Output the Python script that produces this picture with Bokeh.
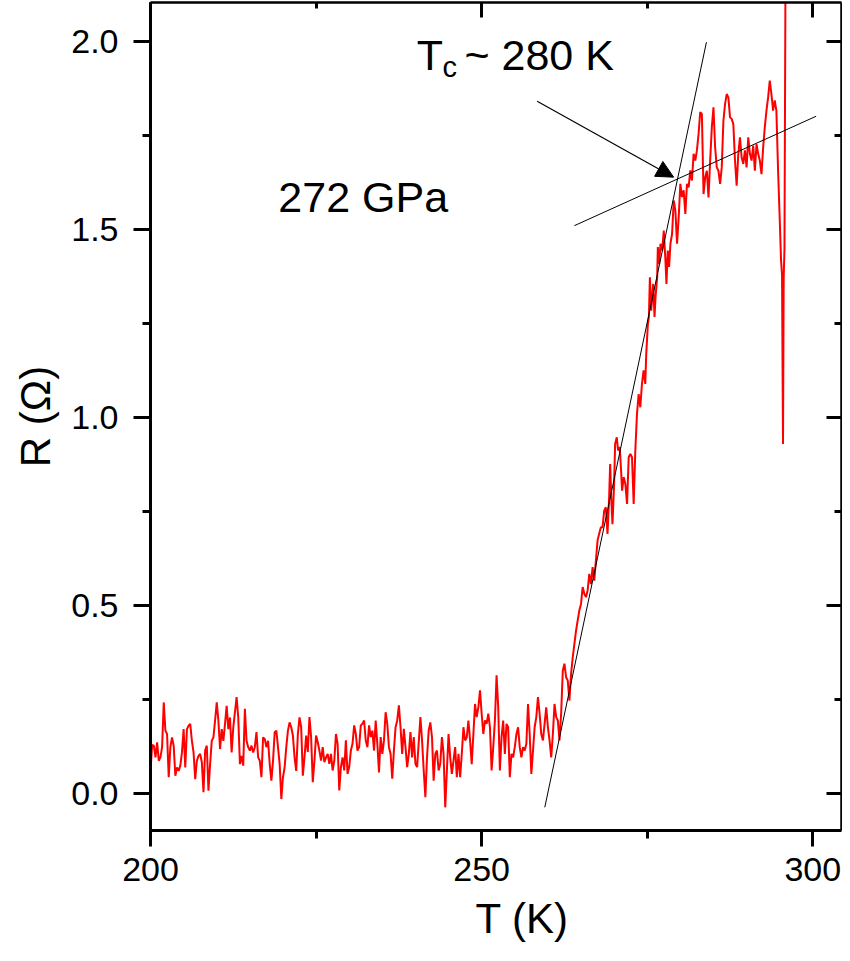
from bokeh.plotting import figure
from bokeh.models import (LinearAxis, SingleIntervalTicker, NumeralTickFormatter,
                          CustomJSTickFormatter, Label, Arrow, NormalHead, Range1d, Title)
from bokeh.embed import file_html
from bokeh.resources import INLINE

FONT = "Liberation Sans"

# ---------------- data ----------------
T1 = [200.0, 200.25, 200.5, 200.75, 201.0, 201.25, 201.5, 201.75, 202.0, 202.25,
      202.5, 202.75, 203.0, 203.25, 203.5, 203.75, 204.0, 204.25, 204.5, 204.75,
      205.0, 205.25, 205.5, 205.75, 206.0, 206.25, 206.5, 206.75, 207.0, 207.25,
      207.5, 207.75, 208.0, 208.25, 208.5, 208.75, 209.0, 209.25, 209.5, 209.75,
      210.0, 210.25, 210.5, 210.75, 211.0, 211.25, 211.5, 211.75, 212.0, 212.25,
      212.5, 212.75, 213.0, 213.25, 213.5, 213.75, 214.0, 214.25, 214.5, 214.75,
      215.0, 215.25, 215.5, 215.75, 216.0, 216.25, 216.5, 216.75, 217.0, 217.25,
      217.5, 217.75, 218.0, 218.25, 218.5, 218.75, 219.0, 219.25, 219.5, 219.75,
      220.0, 220.25, 220.5, 220.75, 221.0, 221.25, 221.5, 221.75, 222.0, 222.25,
      222.5, 222.75, 223.0, 223.25, 223.5]
R1 = [0.06, 0.13, 0.128, 0.097, 0.137, 0.088, 0.097, 0.124, 0.243, 0.168,
      0.159, 0.044, 0.124, 0.150, 0.128, 0.048, 0.070, 0.061, 0.075, 0.110,
      0.172, 0.070, 0.172, 0.181, 0.186, 0.141, 0.110, 0.039, 0.088, 0.101,
      0.106, 0.084, 0.004, 0.115, 0.128, 0.008, 0.079, 0.141, 0.150, 0.195,
      0.243, 0.195, 0.119, 0.172, 0.141, 0.186, 0.234, 0.172, 0.203, 0.110,
      0.177, 0.217, 0.257, 0.203, 0.079, 0.101, 0.075, 0.226, 0.141, 0.124,
      0.115, 0.128, 0.110, 0.124, 0.164, 0.097, 0.088, 0.044, 0.150, 0.146,
      0.124, 0.141, 0.079, 0.035, 0.088, 0.164, 0.168, 0.124, 0.079, -0.014,
      0.044, 0.070, 0.124, 0.168, 0.190, 0.177, 0.155, 0.097, 0.061, 0.159,
      0.203, 0.177, 0.048, 0.097, 0.155]

T2 = [223.75, 224.0, 224.25, 224.5, 224.75, 225.0, 225.25, 225.5, 225.75, 226.0,
      226.25, 226.5, 226.75, 227.0, 227.25, 227.5, 227.75, 228.0, 228.25, 228.5,
      228.75, 229.0, 229.25, 229.5, 229.75, 230.0, 230.25, 230.5, 230.75, 231.0,
      231.25, 231.5, 231.75, 232.0, 232.25, 232.5, 232.75, 233.0, 233.25, 233.5,
      233.75, 234.0, 234.25, 234.5, 234.75, 235.0, 235.25, 235.5, 235.75, 236.0,
      236.25, 236.5, 236.75, 237.0, 237.25, 237.5, 237.75, 238.0, 238.25, 238.5,
      238.75, 239.0, 239.25, 239.5, 239.75, 240.0, 240.25, 240.5, 240.75, 241.0,
      241.25, 241.5, 241.75, 242.0, 242.25, 242.5, 242.75, 243.0, 243.25, 243.5,
      243.75, 244.0, 244.25, 244.5, 244.75, 245.0, 245.25, 245.5, 245.75, 246.0,
      246.25]
R2 = [0.111, 0.204, 0.151, 0.031, 0.088, 0.155, 0.137, 0.115, 0.088, 0.124,
      0.084, 0.097, 0.106, 0.080, 0.106, 0.062, 0.088, 0.159, 0.133, 0.009,
      0.071, 0.097, 0.062, 0.142, 0.053, 0.071, 0.115, 0.133, 0.182, 0.159,
      0.115, 0.124, 0.182, 0.186, 0.195, 0.142, 0.124, 0.182, 0.151, 0.168,
      0.115, 0.195, 0.133, 0.057, 0.151, 0.106, 0.142, 0.217, 0.186, 0.124,
      0.106, 0.040, 0.115, 0.177, 0.195, 0.235, 0.177, 0.106, 0.173, 0.124,
      0.071, 0.106, 0.164, 0.097, 0.151, 0.080, 0.071, 0.137, 0.204, 0.142,
      0.062, -0.009, 0.097, 0.168, 0.190, 0.151, 0.035, 0.106, 0.115, 0.062,
      0.080, 0.151, 0.106, -0.036, 0.062, 0.159, 0.097, 0.053, 0.088, 0.124,
      0.044]

T3 = [246.5, 246.75, 247.0, 247.25, 247.5, 247.75, 248.0, 248.25, 248.5, 248.75,
      249.0, 249.25, 249.5, 249.75, 250.0, 250.25, 250.5, 250.75, 251.0, 251.25,
      251.5, 251.75, 252.0, 252.25, 252.5, 252.75, 253.0, 253.25, 253.5, 253.75,
      254.0, 254.25, 254.5, 254.75, 255.0, 255.25, 255.5, 255.75, 256.0, 256.25,
      256.5, 256.75, 257.0, 257.25, 257.5, 257.75, 258.0, 258.25, 258.5, 258.75,
      259.0, 259.25, 259.5, 259.75, 260.0, 260.25, 260.5, 260.75, 261.0, 261.25,
      261.5, 261.75, 262.0, 262.25, 262.5, 262.75, 263.0, 263.25, 263.5, 263.75,
      264.0, 264.25, 264.5, 264.75, 265.0, 265.25, 265.5, 265.75, 266.0, 266.25,
      266.5, 266.75, 267.0, 267.25, 267.5, 267.75, 268.0]
R3 = [0.106, 0.044, 0.106, 0.177, 0.142, 0.150, 0.195, 0.142, 0.079, 0.159,
      0.239, 0.204, 0.230, 0.275, 0.213, 0.159, 0.195, 0.186, 0.213, 0.177,
      0.062, 0.124, 0.195, 0.315, 0.230, 0.062, 0.150, 0.195, 0.106, 0.186,
      0.177, 0.044, 0.106, 0.097, 0.124, 0.159, 0.177, 0.124, 0.097, 0.124,
      0.115, 0.133, 0.239, 0.159, 0.053, 0.115, 0.177, 0.204, 0.257, 0.213,
      0.159, 0.142, 0.186, 0.230, 0.177, 0.142, 0.097, 0.159, 0.239, 0.204,
      0.195, 0.142, 0.213, 0.328, 0.346, 0.310, 0.301, 0.248, 0.319, 0.363,
      0.399, 0.434, 0.461, 0.488, 0.505, 0.550, 0.532, 0.523, 0.541, 0.585,
      0.558, 0.603, 0.567, 0.621, 0.674, 0.692, 0.709]

T4 = [268.25, 268.5, 268.75, 269.0, 269.25, 269.4, 269.6, 269.75, 270.0, 270.15,
      270.4, 270.6, 270.85, 271.05, 271.2, 271.45, 271.7, 271.95, 272.2, 272.45,
      272.7, 272.95, 273.2, 273.45, 273.7, 273.95, 274.2, 274.45, 274.7, 274.85,
      275.1, 275.25, 275.4, 275.6, 275.9, 276.1, 276.25, 276.5, 276.6, 276.8,
      277.0, 277.25, 277.5, 277.75, 277.9, 278.1, 278.3, 278.5, 278.75, 279.0,
      279.25, 279.5, 279.75, 280.0, 280.25, 280.5, 280.75, 281.0, 281.25, 281.5,
      281.75, 282.0]
R4 = [0.709, 0.753, 0.762, 0.691, 0.789, 0.877, 0.771, 0.717, 0.824, 0.931,
      0.948, 0.913, 0.922, 0.860, 0.806, 0.842, 0.824, 0.771, 0.895, 0.904,
      0.895, 0.771, 0.913, 1.010, 1.063, 1.028, 1.090, 1.126, 1.090, 1.170,
      1.250, 1.268, 1.374, 1.285, 1.356, 1.268, 1.321, 1.374, 1.454, 1.409,
      1.463, 1.445, 1.498, 1.418, 1.356, 1.445, 1.401, 1.463, 1.489, 1.578,
      1.551, 1.463, 1.534, 1.622, 1.587, 1.605, 1.542, 1.622, 1.613, 1.658,
      1.631, 1.702]

T5 = [282.25, 282.5, 282.75, 283.0, 283.25, 283.5, 283.75, 284.0, 284.25, 284.5,
      284.75, 285.0, 285.25, 285.5, 285.75, 286.0, 286.25, 286.5, 286.75, 287.0,
      287.25, 287.5, 287.75, 288.0, 288.25, 288.5, 288.75, 289.0, 289.25, 289.5,
      289.75, 290.0, 290.25, 290.5, 290.75, 291.0, 291.25, 291.5, 291.75, 292.0,
      292.25, 292.5, 292.75, 293.0, 293.25, 293.5, 293.75, 294.0, 294.25, 294.5,
      294.75, 295.0, 295.2, 295.35, 295.5, 295.6, 295.72, 295.9]
R5 = [1.684, 1.711, 1.755, 1.813, 1.808, 1.595, 1.640, 1.657, 1.586, 1.684,
      1.773, 1.826, 1.719, 1.666, 1.657, 1.622, 1.666, 1.790, 1.835, 1.861,
      1.852, 1.799, 1.795, 1.781, 1.684, 1.617, 1.702, 1.746, 1.693, 1.675,
      1.711, 1.666, 1.746, 1.702, 1.684, 1.724, 1.657, 1.728, 1.702, 1.684,
      1.648, 1.719, 1.773, 1.817, 1.852, 1.897, 1.861, 1.817, 1.844, 1.817,
      1.66, 1.53, 1.42, 1.38, 0.93, 1.37, 1.45, 2.30]

T_all = T1 + T2 + T3 + T4 + T5
R_all = R1 + R2 + R3 + R4 + R5

# guide lines and arrow (data coordinates)
steep_T = [259.53, 283.94]
steep_R = [-0.036, 1.999]
flat_T = [264.0, 300.5]
flat_R = [1.511, 1.802]
arrow_start = (258.38, 1.842)
arrow_end = (278.98, 1.640)

x_ticks_interval = 50
y_ticks_interval = 0.5

# ---------------- figure ----------------
p = figure(width=842, height=953, output_backend="svg", toolbar_location=None,
           x_range=Range1d(200, 304.33), y_range=Range1d(-0.0976, 2.1045),
           min_border_left=150, min_border_right=1, min_border_top=2,
           min_border_bottom=123)
p.xgrid.visible = False
p.ygrid.visible = False
p.outline_line_color = None
p.background_fill_color = "white"
p.border_fill_color = "white"

xt = SingleIntervalTicker(interval=x_ticks_interval, num_minor_ticks=2)
yt = SingleIntervalTicker(interval=y_ticks_interval, num_minor_ticks=2)

for ax in p.xaxis:
    ax.ticker = xt
    ax.major_tick_out = 16
    ax.major_tick_in = 0
    ax.minor_tick_out = 8
    ax.minor_tick_in = 0
    ax.major_label_standoff = 11
for ax in p.yaxis:
    ax.ticker = yt
    ax.formatter = NumeralTickFormatter(format="0.0")
    ax.major_tick_out = 17
    ax.major_tick_in = 0
    ax.minor_tick_out = 8
    ax.minor_tick_in = 0
    ax.major_label_standoff = 15

for ax in list(p.xaxis) + list(p.yaxis):
    ax.axis_line_width = 3
    ax.axis_line_color = "black"
    ax.major_tick_line_width = 3
    ax.minor_tick_line_width = 3
    ax.major_tick_line_color = "black"
    ax.minor_tick_line_color = "black"
    ax.major_label_text_font = FONT
    ax.major_label_text_font_size = "34px"
    ax.major_label_text_color = "black"

blank = CustomJSTickFormatter(code="return '';")
top = LinearAxis(ticker=SingleIntervalTicker(interval=x_ticks_interval, num_minor_ticks=2),
                 formatter=blank,
                 major_tick_in=15, major_tick_out=0, minor_tick_in=6, minor_tick_out=0,
                 major_label_text_font_size="1px", major_label_standoff=0,
                 axis_line_width=2.5, major_tick_line_width=3, minor_tick_line_width=3)
right = LinearAxis(ticker=SingleIntervalTicker(interval=y_ticks_interval, num_minor_ticks=2),
                   formatter=blank,
                   major_tick_in=15, major_tick_out=0, minor_tick_in=7, minor_tick_out=0,
                   major_label_text_font_size="1px", major_label_standoff=0,
                   axis_line_width=2.5, major_tick_line_width=3, minor_tick_line_width=3)
p.add_layout(top, "above")
p.add_layout(right, "right")

# axis titles (as titles so that their position can be offset like the original)
p.add_layout(Title(text="T (K)", align="left", offset=325, standoff=18,
                   text_font=FONT, text_font_size="42px", text_font_style="normal",
                   text_color="black"), "below")
p.add_layout(Title(text="R (Ω)", align="center", offset=-26, standoff=19,
                   text_font=FONT, text_font_size="42px", text_font_style="normal",
                   text_color="black"), "left")

# data curve
p.line(T_all, R_all, line_color="#ff0000", line_width=2)

# guide lines
p.line(steep_T, steep_R, line_color="black", line_width=1)
p.line(flat_T, flat_R, line_color="black", line_width=1)
p.add_layout(Arrow(end=NormalHead(size=17, fill_color="black", line_color="black"),
                   x_start=arrow_start[0], y_start=arrow_start[1],
                   x_end=arrow_end[0], y_end=arrow_end[1],
                   line_color="black", line_width=1.2))

# annotation texts
p.add_layout(Label(x=240.19, y=1.964, text="T", text_font=FONT, text_font_size="43px",
                   text_color="black", text_baseline="alphabetic", text_align="left"))
p.add_layout(Label(x=244.08, y=1.934, text="c", text_font=FONT, text_font_size="29px",
                   text_color="black", text_baseline="alphabetic", text_align="left"))
p.add_layout(Label(x=247.4, y=1.964, text="~ 280 K", text_font=FONT, text_font_size="43px",
                   text_color="black", text_baseline="alphabetic", text_align="left"))
p.add_layout(Label(x=219.3, y=1.587, text="272 GPa", text_font=FONT, text_font_size="43px",
                   text_color="black", text_baseline="alphabetic", text_align="left"))

open("out.html", "w").write(file_html(p, INLINE))
